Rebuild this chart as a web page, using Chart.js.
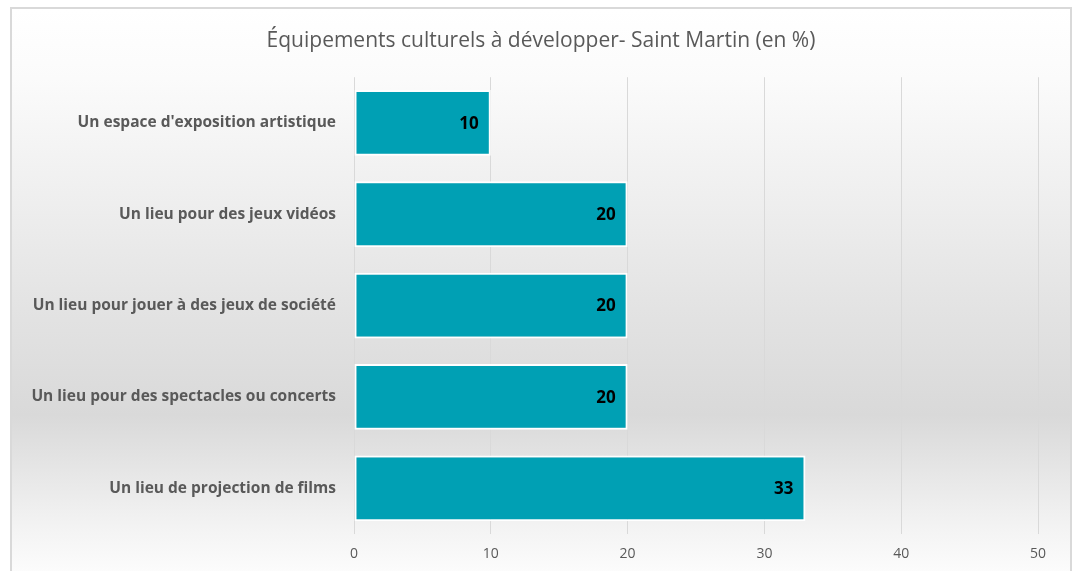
<!DOCTYPE html>
<html>
<head>
<meta charset="utf-8">
<script src="https://cdn.jsdelivr.net/npm/chart.js@4"></script>
<style>
  html, body { margin: 0; padding: 0; background: #fff; }
  #wrap { position: relative; width: 1078px; height: 571px; overflow: hidden; }
  #frame {
    position: absolute; left: 10px; top: 7px; width: 1058px; height: 580px;
    border: 2px solid #d9d9d9;
    background: linear-gradient(to bottom, #ffffff 0%, #fbfbfb 12%, #e4e4e4 50%, #d9d9d9 70%, #f4f4f4 90%, #ffffff 100%);
  }
  #myChart { position: absolute; left: 0; top: 0; }
</style>
</head>
<body>
<div id="wrap">
  <div id="frame"></div>
  <canvas id="myChart" width="1078" height="571"></canvas>
</div>
<script>
// chart data
var categories = [
  "Un espace d'exposition artistique",
  "Un lieu pour des jeux vidéos",
  "Un lieu pour jouer à des jeux de société",
  "Un lieu pour des spectacles ou concerts",
  "Un lieu de projection de films"
];
var values = [10, 20, 20, 20, 33];
var xTicks = [0, 10, 20, 30, 40, 50];
var chartTitle = "Équipements culturels à développer- Saint Martin (en %)";

// write the value inside the end of each bar
var barLabels = {
  id: 'barLabels',
  afterDatasetsDraw: function(chart) {
    var ctx = chart.ctx;
    var meta = chart.getDatasetMeta(0);
    ctx.save();
    ctx.font = "bold 17px 'Open Sans'";
    ctx.fillStyle = '#000000';
    ctx.textAlign = 'right';
    ctx.textBaseline = 'middle';
    meta.data.forEach(function(bar, i) {
      ctx.fillText(values[i], bar.x - 12, bar.y + 1);
    });
    ctx.restore();
  }
};

var chartId = document.getElementById("myChart");
var chart = new Chart(chartId, {
  type: 'bar',
  data: {
    labels: categories,
    datasets: [{
      data: values,
      backgroundColor: '#00a0b4',
      borderColor: '#ffffff',
      borderWidth: 2,
      borderSkipped: false,
      barPercentage: 0.72,
      categoryPercentage: 1
    }]
  },
  options: {
    indexAxis: 'y',
    responsive: false,
    animation: false,
    layout: { padding: { left: 4, right: 0, top: 0, bottom: 0 } },
    plugins: {
      legend: { display: false },
      tooltip: { enabled: false },
      title: {
        display: true,
        text: chartTitle,
        color: '#595959',
        font: { family: "'Open Sans'", size: 21, weight: 'normal' },
        padding: { top: 28, bottom: 24 }
      }
    },
    scales: {
      x: {
        min: 0,
        max: 50,
        afterBuildTicks: function(scale) {
          scale.ticks = xTicks.map(function(v) { return { value: v }; });
        },
        afterFit: function(scale) {
          scale.height = 37;
          scale.paddingRight = 40;
        },
        grid: { color: '#d9d9d9', drawTicks: false, tickLength: 0 },
        border: { display: false },
        ticks: {
          color: '#595959',
          padding: 12,
          font: { family: "'Open Sans'", size: 14 }
        }
      },
      y: {
        afterFit: function(scale) { scale.width = 350; },
        grid: { display: false, drawTicks: false, tickLength: 0 },
        border: { display: false },
        ticks: {
          color: '#595959',
          padding: 18,
          font: { family: "'Open Sans'", size: 15.5, weight: 'bold' }
        }
      }
    }
  },
  plugins: [barLabels]
});
</script>
</body>
</html>
